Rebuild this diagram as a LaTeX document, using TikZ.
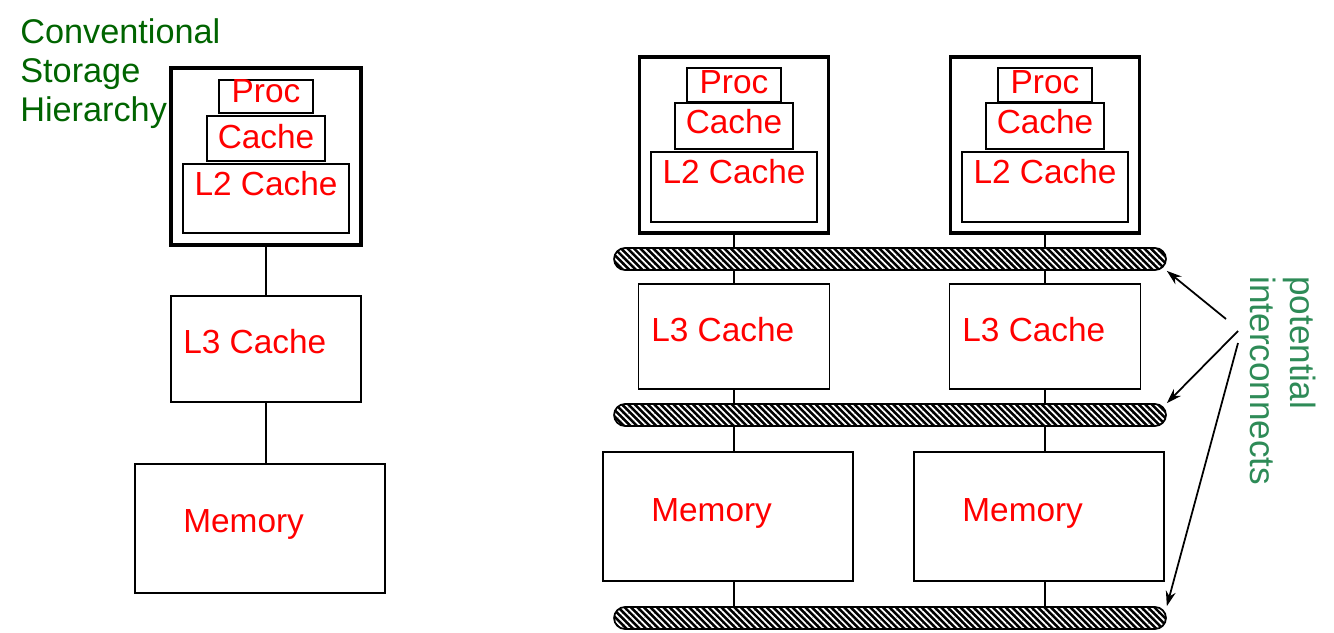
\documentclass[tikz,border=0pt]{standalone}
\usepackage{fontspec}
\setmainfont{Liberation Sans}
\usetikzlibrary{patterns.meta, arrows.meta}
\definecolor{convgreen}{RGB}{0,100,0}
\definecolor{notegreen}{RGB}{46,139,87}
\tikzset{
	box/.style={shape=rectangle, draw, line width=1pt},
	outerbox/.style={shape=rectangle, draw, line width=2.2pt},
	bus/.style={shape=rectangle, draw, line width=1pt, rounded corners=0.22cm, minimum width=11.04cm, minimum height=0.44cm, preaction={fill=black}, pattern={Lines[angle=-45, distance=2.6pt, line width=1pt]}, pattern color=white},
	lbl/.style={text=red, inner sep=0pt, font=\fontsize{19}{22}\selectfont},
	wire/.style={line width=1pt}
}
\begin{document}
\begin{tikzpicture}[x=0.02cm, y=-0.02cm]
	\useasboundingbox (0,0) rectangle (1334,632);
	\node[anchor=north west, align=left, inner sep=0pt, text=convgreen, font=\fontsize{19.5}{22.2}\selectfont] (title) at (20,18){Conventional\\Storage\\Hierarchy};
	\node[outerbox, minimum width=3.8cm, minimum height=3.54cm] (lout) at (266,156.5){};
	\node[box, minimum width=1.88cm, minimum height=0.66cm] (lproc) at (266,96.5){};
	\node[box, minimum width=2.36cm, minimum height=0.9cm] (lcache) at (266,138.5){};
	\node[box, minimum width=3.32cm, minimum height=1.38cm] (ll2) at (266,198.5){};
	\node[lbl, anchor=base] (lproct) at (266,102){Proc};
	\node[lbl, anchor=base] (lcachet) at (266,148){Cache};
	\node[lbl, anchor=base] (ll2t) at (266,195){L2 Cache};
	\node[box, minimum width=3.8cm, minimum height=2.12cm] (ll3) at (266,349){};
	\node[lbl, anchor=base west] (ll3t) at (183,353){L3 Cache};
	\node[box, minimum width=5cm, minimum height=2.58cm] (lmem) at (260,528.5){};
	\node[lbl, anchor=base west] (lmemt) at (183,532){Memory};
	\draw[wire] (lout.south) -- (ll3.north);
	\draw[wire] (ll3.south) -- (ll3.south |- lmem.north);
	\node[bus] (bus1) at (890,259){};
	\node[bus] (bus2) at (890,415){};
	\node[bus] (bus3) at (890,618){};
	\foreach \n/\x in {1/734, 2/1045}{
		\node[outerbox, minimum width=3.78cm, minimum height=3.52cm] (rout\n) at (\x,145){};
		\node[box, minimum width=1.88cm, minimum height=0.68cm] (rproc\n) at (\x,85){};
		\node[box, minimum width=2.36cm, minimum height=0.92cm] (rcache\n) at (\x,126){};
		\node[box, minimum width=3.32cm, minimum height=1.4cm] (rl2\n) at (\x,187){};
		\node[lbl, anchor=base] (rproct\n) at (\x,93){Proc};
		\node[lbl, anchor=base] (rcachet\n) at (\x,133){Cache};
		\node[lbl, anchor=base] (rl2t\n) at (\x,183){L2 Cache};
		\node[box, minimum width=3.82cm, minimum height=2.1cm] (rl3\n) at (\x,336.5){};
		\node[lbl, anchor=base west] (rl3t\n) at ([xshift=-1.66cm]\x,341){L3 Cache};
		\node[box, minimum width=5cm, minimum height=2.58cm] (rmem\n) at ([xshift=-0.12cm]\x,516.5){};
		\node[lbl, anchor=base west] (rmemt\n) at ([xshift=-1.66cm]\x,521){Memory};
		\draw[wire] (rout\n.south) -- (rout\n.south |- bus1.north);
		\draw[wire] (rout\n.south |- bus1.south) -- (rl3\n.north);
		\draw[wire] (rl3\n.south) -- (rl3\n.south |- bus2.north);
		\draw[wire] (rl3\n.south |- bus2.south) -- (rl3\n.south |- rmem\n.north);
		\draw[wire] (rl3\n.south |- rmem\n.south) -- (rl3\n.south |- bus3.north);
	}
	\node[rotate=-90, anchor=north west, align=left, inner sep=0pt, text=notegreen, font=\fontsize{20}{22.7}\selectfont] (note) at (1316,276){potential\\interconnects};
	\coordinate (a1) at (1226,319);
	\coordinate (a2) at (1238,331);
	\coordinate (a3) at (1238,343);
	\draw[wire, -{Stealth[length=3mm, width=2mm]}] (a1) -- (bus1.south east);
	\draw[wire, -{Stealth[length=3mm, width=2mm]}] (a2) -- (bus2.north east);
	\draw[wire, -{Stealth[length=3mm, width=2mm]}] (a3) -- (bus3.north east);
\end{tikzpicture}
\end{document}
